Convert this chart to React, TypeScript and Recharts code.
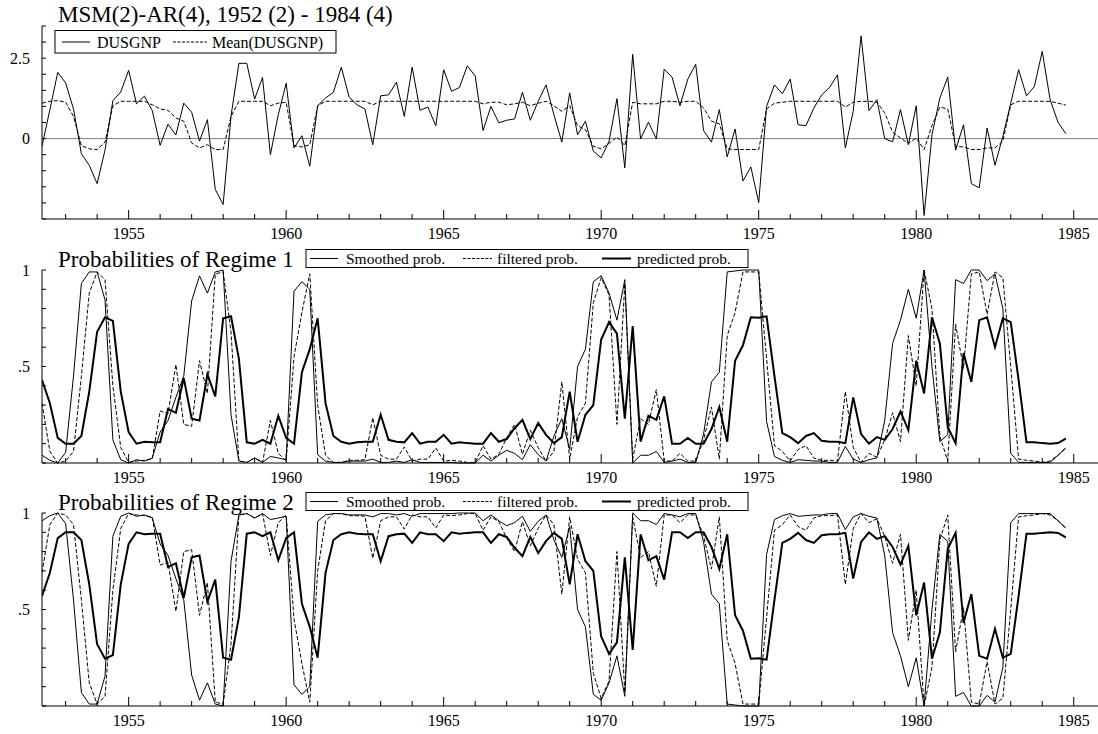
import { LineChart, Line, XAxis, YAxis, ReferenceLine } from 'recharts';

// quarterly sample 1952 (2) - 1984 (4)
const startYear = 1952;
const startQuarter = 2;

const dusgnp = [
  -0.24, 0.9, 2.06, 1.73, 0.92, -0.47, -0.83, -1.4, -0.36, 1.18,
  1.45, 2.12, 1.08, 1.32, 0.87, -0.21, 0.45, 0.11, 1.1, 0.82,
  -0.08, 0.59, -1.58, -2.05, 0.7, 2.34, 2.34, 1.23, 1.9, -0.5,
  0.74, 1.72, -0.29, 0.09, -0.86, 1.02, 1.26, 1.44, 2.22, 1.29,
  1.05, 0.92, -0.19, 1.33, 1.36, 1.75, 0.69, 2.22, 0.88, 0.98,
  0.4, 2.14, 1.47, 1.59, 2.26, 1.95, 0.25, 1.0, 0.49, 0.57,
  0.61, 1.44, 0.57, 1.16, 1.67, 0.74, -0.11, 1.42, 0.12, 0.54,
  -0.39, -0.6, -0.08, 1.24, -0.91, 2.62, -0.01, 0.51, -0.01, 2.16,
  1.91, 1.02, 1.85, 2.31, 0.25, -0.11, 0.9, -0.57, 0.3, -1.32,
  -0.88, -1.99, 1.0, 1.67, 1.39, 1.85, 0.43, 0.4, 0.95, 1.36,
  1.59, 1.98, -0.29, 0.85, 3.19, 0.87, 1.21, 0.0, -0.1, 0.9,
  -0.19, 1.02, -2.39, 0.12, 1.26, 1.91, -0.36, 0.43, -1.4, -1.53,
  0.33, -0.83, 0.07, 1.1, 2.14, 1.33, 1.62, 2.71, 1.21, 0.51,
  0.15,
];

const meanDusgnp = [
  1.1, 1.16, 1.18, 1.13, 0.69, -0.22, -0.32, -0.34, -0.11, 1.02,
  1.16, 1.16, 1.16, 1.16, 1.05, 0.92, 0.88, 0.64, 0.54, -0.13,
  -0.29, -0.19, -0.34, -0.34, 0.69, 1.16, 1.16, 1.16, 1.16, 1.02,
  1.1, 1.13, -0.22, -0.26, -0.19, 1.02, 1.16, 1.16, 1.16, 1.16,
  1.16, 1.16, 1.05, 1.16, 1.16, 1.16, 1.16, 1.16, 1.16, 1.16,
  1.16, 1.16, 1.16, 1.16, 1.16, 1.16, 1.08, 1.13, 1.13, 1.05,
  1.08, 1.13, 1.02, 1.1, 1.16, 1.02, 0.85, 1.02, 0.4, 0.28,
  -0.24, -0.32, -0.15, 0.05, -0.22, 1.13, 1.08, 1.08, 1.08, 1.16,
  1.16, 1.13, 1.16, 1.16, 0.95, 0.54, 0.46, -0.32, -0.34, -0.34,
  -0.34, -0.34, 0.92, 1.1, 1.13, 1.16, 1.16, 1.16, 1.16, 1.16,
  1.16, 1.16, 0.98, 1.13, 1.16, 1.16, 1.13, 0.8, 0.2, 0.02,
  -0.15, 0.02, -0.34, 0.4, 0.98, 0.92, -0.24, -0.26, -0.34, -0.34,
  -0.29, -0.29, -0.08, 1.05, 1.16, 1.16, 1.16, 1.16, 1.16, 1.1,
  1.04,
];

const smoothed1 = [
  0.04, 0.014, 0.0, 0.055, 0.45, 0.93, 0.99, 0.99, 0.845, 0.12,
  0.017, 0.0, 0.017, 0.01, 0.026, 0.16, 0.22, 0.34, 0.45, 0.84,
  0.97, 0.88, 0.99, 1.0, 0.25, 0.01, 0.003, 0.026, 0.003, 0.034,
  0.026, 0.017, 0.89, 0.94, 0.9, 0.043, 0.01, 0.003, 0.003, 0.01,
  0.01, 0.01, 0.02, 0.003, 0.003, 0.01, 0.003, 0.017, 0.003, 0.003,
  0.003, 0.003, 0.003, 0.0, 0.0, 0.0, 0.04, 0.01, 0.04, 0.066,
  0.05, 0.017, 0.095, 0.043, 0.01, 0.14, 0.23, 0.07, 0.5, 0.59,
  0.94, 0.97, 0.88, 0.74, 0.95, 0.0, 0.04, 0.04, 0.06, 0.003,
  0.01, 0.02, 0.003, 0.003, 0.15, 0.42, 0.47, 0.99, 0.995, 1.0,
  1.0, 1.0, 0.215, 0.034, 0.014, 0.003, 0.017, 0.014, 0.01, 0.01,
  0.003, 0.003, 0.086, 0.02, 0.003, 0.017, 0.026, 0.22, 0.62, 0.74,
  0.9, 0.75, 1.0, 0.5, 0.11, 0.147, 0.95, 0.93, 1.0, 1.0,
  0.945, 0.98, 0.8, 0.05, 0.003, 0.003, 0.003, 0.003, 0.003, 0.04,
  0.078,
];

const filtered1 = [
  0.31, 0.06, 0.0, 0.01, 0.06, 0.45, 0.88, 0.99, 0.95, 0.4,
  0.08, 0.003, 0.01, 0.014, 0.02, 0.27, 0.255, 0.51, 0.2, 0.19,
  0.53, 0.36, 0.98, 0.99, 0.68, 0.01, 0.003, 0.026, 0.003, 0.22,
  0.05, 0.01, 0.55, 0.78, 0.98, 0.3, 0.04, 0.003, 0.003, 0.014,
  0.014, 0.017, 0.235, 0.04, 0.02, 0.02, 0.083, 0.01, 0.02, 0.02,
  0.078, 0.01, 0.014, 0.01, 0.003, 0.003, 0.09, 0.02, 0.045, 0.13,
  0.2, 0.045, 0.17, 0.08, 0.01, 0.06, 0.42, 0.02, 0.24, 0.31,
  0.83, 0.96, 0.87, 0.2, 0.93, 0.02, 0.23, 0.2, 0.38, 0.01,
  0.01, 0.05, 0.01, 0.01, 0.12, 0.29, 0.02, 0.66, 0.78, 0.99,
  0.99, 0.99, 0.54, 0.09, 0.06, 0.01, 0.07, 0.09, 0.026, 0.014,
  0.014, 0.01, 0.37, 0.08, 0.003, 0.05, 0.03, 0.12, 0.26, 0.11,
  0.66, 0.4, 1.0, 0.8, 0.14, 0.01, 0.72, 0.49, 0.98, 0.99,
  0.77, 0.99, 0.96, 0.5, 0.02, 0.014, 0.01, 0.003, 0.01, 0.04,
  0.078,
];

const predicted1 = [
  0.43, 0.31, 0.13, 0.1, 0.1, 0.14, 0.37, 0.68, 0.755, 0.736,
  0.37, 0.16, 0.1, 0.11, 0.107, 0.107, 0.28, 0.26, 0.44, 0.23,
  0.22, 0.46, 0.345, 0.75, 0.76, 0.54, 0.107, 0.1, 0.12, 0.1,
  0.245, 0.13, 0.1, 0.47, 0.59, 0.75, 0.31, 0.14, 0.11, 0.1,
  0.107, 0.11, 0.11, 0.25, 0.12, 0.11, 0.107, 0.155, 0.1, 0.11,
  0.11, 0.146, 0.1, 0.107, 0.103, 0.1, 0.1, 0.155, 0.11, 0.124,
  0.18, 0.224, 0.124, 0.207, 0.146, 0.103, 0.134, 0.37, 0.11, 0.25,
  0.3, 0.64, 0.73, 0.67, 0.23, 0.71, 0.11, 0.245, 0.224, 0.345,
  0.1, 0.1, 0.13, 0.1, 0.1, 0.176, 0.29, 0.11, 0.53, 0.61,
  0.755, 0.753, 0.76, 0.45, 0.155, 0.134, 0.103, 0.14, 0.155, 0.115,
  0.11, 0.11, 0.103, 0.34, 0.15, 0.1, 0.134, 0.12, 0.176, 0.267,
  0.17, 0.53, 0.36, 0.755, 0.62, 0.186, 0.103, 0.57, 0.42, 0.74,
  0.755, 0.6, 0.75, 0.73, 0.43, 0.107, 0.107, 0.103, 0.1, 0.103,
  0.126,
];

const smoothed2 = [
  0.96, 0.986, 1.0, 0.945, 0.55, 0.07, 0.01, 0.01, 0.155, 0.88,
  0.983, 1.0, 0.983, 0.99, 0.974, 0.84, 0.78, 0.66, 0.55, 0.16,
  0.03, 0.12, 0.01, 0.0, 0.75, 0.99, 0.997, 0.974, 0.997, 0.966,
  0.974, 0.983, 0.11, 0.06, 0.1, 0.957, 0.99, 0.997, 0.997, 0.99,
  0.99, 0.99, 0.98, 0.997, 0.997, 0.99, 0.997, 0.983, 0.997, 0.997,
  0.997, 0.997, 0.997, 1.0, 1.0, 1.0, 0.96, 0.99, 0.96, 0.934,
  0.95, 0.983, 0.905, 0.957, 0.99, 0.86, 0.77, 0.93, 0.5, 0.41,
  0.06, 0.03, 0.12, 0.26, 0.05, 1.0, 0.96, 0.96, 0.94, 0.997,
  0.99, 0.98, 0.997, 0.997, 0.85, 0.58, 0.53, 0.01, 0.005, 0.0,
  0.0, 0.0, 0.785, 0.966, 0.986, 0.997, 0.983, 0.986, 0.99, 0.99,
  0.997, 0.997, 0.914, 0.98, 0.997, 0.983, 0.974, 0.78, 0.38, 0.26,
  0.1, 0.25, 0.0, 0.5, 0.89, 0.853, 0.05, 0.07, 0.0, 0.0,
  0.055, 0.02, 0.2, 0.95, 0.997, 0.997, 0.997, 0.997, 0.997, 0.96,
  0.922,
];

const filtered2 = [
  0.69, 0.94, 1.0, 0.99, 0.94, 0.55, 0.12, 0.01, 0.05, 0.6,
  0.92, 0.997, 0.99, 0.986, 0.98, 0.73, 0.745, 0.49, 0.8, 0.81,
  0.47, 0.64, 0.02, 0.01, 0.32, 0.99, 0.997, 0.974, 0.997, 0.78,
  0.95, 0.99, 0.45, 0.22, 0.02, 0.7, 0.96, 0.997, 0.997, 0.986,
  0.986, 0.983, 0.765, 0.96, 0.98, 0.98, 0.917, 0.99, 0.98, 0.98,
  0.922, 0.99, 0.986, 0.99, 0.997, 0.997, 0.91, 0.98, 0.955, 0.87,
  0.8, 0.955, 0.83, 0.92, 0.99, 0.94, 0.58, 0.98, 0.76, 0.69,
  0.17, 0.04, 0.13, 0.8, 0.07, 0.98, 0.77, 0.8, 0.62, 0.99,
  0.99, 0.95, 0.99, 0.99, 0.88, 0.71, 0.98, 0.34, 0.22, 0.01,
  0.01, 0.01, 0.46, 0.91, 0.94, 0.99, 0.93, 0.91, 0.974, 0.986,
  0.986, 0.99, 0.63, 0.92, 0.997, 0.95, 0.97, 0.88, 0.74, 0.89,
  0.34, 0.6, 0.0, 0.2, 0.86, 0.99, 0.28, 0.51, 0.02, 0.01,
  0.23, 0.01, 0.04, 0.5, 0.98, 0.986, 0.99, 0.997, 0.99, 0.96,
  0.922,
];

const predicted2 = [
  0.57, 0.69, 0.87, 0.9, 0.9, 0.86, 0.63, 0.32, 0.245, 0.264,
  0.63, 0.84, 0.9, 0.89, 0.893, 0.893, 0.72, 0.74, 0.56, 0.77,
  0.78, 0.54, 0.655, 0.25, 0.24, 0.46, 0.893, 0.9, 0.88, 0.9,
  0.755, 0.87, 0.9, 0.53, 0.41, 0.25, 0.69, 0.86, 0.89, 0.9,
  0.893, 0.89, 0.89, 0.75, 0.88, 0.89, 0.893, 0.845, 0.9, 0.89,
  0.89, 0.854, 0.9, 0.893, 0.897, 0.9, 0.9, 0.845, 0.89, 0.876,
  0.82, 0.776, 0.876, 0.793, 0.854, 0.897, 0.866, 0.63, 0.89, 0.75,
  0.7, 0.36, 0.27, 0.33, 0.77, 0.29, 0.89, 0.755, 0.776, 0.655,
  0.9, 0.9, 0.87, 0.9, 0.9, 0.824, 0.71, 0.89, 0.47, 0.39,
  0.245, 0.247, 0.24, 0.55, 0.845, 0.866, 0.897, 0.86, 0.845, 0.885,
  0.89, 0.89, 0.897, 0.66, 0.85, 0.9, 0.866, 0.88, 0.824, 0.733,
  0.83, 0.47, 0.64, 0.245, 0.38, 0.814, 0.897, 0.43, 0.58, 0.26,
  0.245, 0.4, 0.25, 0.27, 0.57, 0.893, 0.893, 0.897, 0.9, 0.897,
  0.874,
];

const yearTicks = [
  1953, 1954, 1955, 1956, 1957, 1958, 1959, 1960, 1961, 1962, 1963,
  1964, 1965, 1966, 1967, 1968, 1969, 1970, 1971, 1972, 1973, 1974,
  1975, 1976, 1977, 1978, 1979, 1980, 1981, 1982, 1983, 1984, 1985,
];
const yearLabels = [1955, 1960, 1965, 1970, 1975, 1980, 1985];

const gnpTicks = [-2.5, -2, -1.5, -1, -0.5, 0, 0.5, 1, 1.5, 2, 2.5, 3, 3.5];
const gnpLabels: Record<string, string> = { '0': '0', '2.5': '2.5' };
const probTicks = [0, 0.1, 0.2, 0.3, 0.4, 0.5, 0.6, 0.7, 0.8, 0.9, 1];
const probLabels: Record<string, string> = { '0.5': '.5', '1': '1' };

const rows = dusgnp.map((v, i) => ({
  t: startYear + (startQuarter - 1) / 4 + i / 4,
  dusgnp: v,
  mean: meanDusgnp[i],
  sm1: smoothed1[i],
  fi1: filtered1[i],
  pr1: predicted1[i],
  sm2: smoothed2[i],
  fi2: filtered2[i],
  pr2: predicted2[i],
}));

const FONT = "'Liberation Serif', 'Times New Roman', serif";
const W = 1098;
const PLOT_LEFT = 42;
const xDomain = [1952.25, 1985.77];

function YearTick(props: any) {
  const { x, y, payload } = props;
  const major = yearLabels.includes(payload.value);
  return (
    <g>
      <line x1={x} x2={x} y1={y} y2={y - (major ? 9 : 5)} stroke="#000" strokeWidth={1} />
      {major && (
        <text x={x} y={y + 20} textAnchor="middle" fontFamily={FONT} fontSize={16} fill="#000">
          {payload.value}
        </text>
      )}
    </g>
  );
}

function makeValueTick(labels: Record<string, string>) {
  return (props: any) => {
    const { x, y, payload } = props;
    const label = labels[String(payload.value)];
    return (
      <g>
        <line x1={x} x2={x + 4} y1={y} y2={y} stroke="#000" strokeWidth={1} />
        {label && (
          <text x={x - 12} y={y + 5.5} textAnchor="end" fontFamily={FONT} fontSize={16} fill="#000">
            {label}
          </text>
        )}
      </g>
    );
  };
}

function xAxisEl() {
  return (
    <XAxis
      type="number"
      dataKey="t"
      domain={xDomain}
      ticks={yearTicks}
      interval={0}
      allowDataOverflow
      tickLine={false}
      tickSize={0}
      tickMargin={0}
      height={26}
      axisLine={{ stroke: '#000', strokeWidth: 1 }}
      tick={YearTick}
    />
  );
}

function GnpPanel() {
  return (
    <LineChart width={W} height={245} data={rows} margin={{ top: 26, right: 0, bottom: 0, left: 0 }}>
      {xAxisEl()}
      <YAxis
        type="number"
        domain={[-2.5, 3.5]}
        ticks={gnpTicks}
        interval={0}
        width={PLOT_LEFT}
        tickLine={false}
        tickSize={0}
        tickMargin={0}
        axisLine={{ stroke: '#000', strokeWidth: 1 }}
        tick={makeValueTick(gnpLabels)}
      />
      <ReferenceLine y={0} stroke="#808080" strokeWidth={1} />
      <Line type="linear" dataKey="mean" stroke="#000" strokeWidth={1} strokeDasharray="4 2" dot={false} isAnimationActive={false} />
      <Line type="linear" dataKey="dusgnp" stroke="#000" strokeWidth={1} dot={false} isAnimationActive={false} />
    </LineChart>
  );
}

function ProbPanel({ sm, fi, pr }: { sm: string; fi: string; pr: string }) {
  return (
    <LineChart width={W} height={245} data={rows} margin={{ top: 26, right: 0, bottom: 0, left: 0 }}>
      {xAxisEl()}
      <YAxis
        type="number"
        domain={[0, 1]}
        ticks={probTicks}
        interval={0}
        width={PLOT_LEFT}
        tickLine={false}
        tickSize={0}
        tickMargin={0}
        axisLine={{ stroke: '#000', strokeWidth: 1 }}
        tick={makeValueTick(probLabels)}
      />
      <Line type="linear" dataKey={sm} stroke="#000" strokeWidth={1} dot={false} isAnimationActive={false} />
      <Line type="linear" dataKey={fi} stroke="#000" strokeWidth={1} strokeDasharray="4 2" dot={false} isAnimationActive={false} />
      <Line type="linear" dataKey={pr} stroke="#000" strokeWidth={2} dot={false} isAnimationActive={false} />
    </LineChart>
  );
}

function ProbLegend({ top, title }: { top: number; title: string }) {
  const ly = top + 9;
  return (
    <g fontFamily={FONT} fill="#000">
      <text x={58} y={top + 17} fontSize={23}>{title}</text>
      <rect x={306} y={top} width={442} height={18} fill="#fff" stroke="#000" strokeWidth={1} />
      <line x1={310} x2={338} y1={ly} y2={ly} stroke="#000" strokeWidth={1} />
      <text x={346} y={ly + 5} fontSize={15.5}>Smoothed prob.</text>
      <line x1={463} x2={492} y1={ly} y2={ly} stroke="#000" strokeWidth={1} strokeDasharray="3 1.5" />
      <text x={497} y={ly + 5} fontSize={15.5}>filtered prob.</text>
      <line x1={602} x2={631} y1={ly} y2={ly} stroke="#000" strokeWidth={2} />
      <text x={637} y={ly + 5} fontSize={15.5}>predicted prob.</text>
    </g>
  );
}

export default function App() {
  return (
    <div style={{ position: 'absolute', left: 0, top: 0, width: W, height: 734, background: '#fff' }}>
      <div style={{ position: 'absolute', left: 0, top: 0 }}>
        <GnpPanel />
      </div>
      <div style={{ position: 'absolute', left: 0, top: 244 }}>
        <ProbPanel sm="sm1" fi="fi1" pr="pr1" />
      </div>
      <div style={{ position: 'absolute', left: 0, top: 487 }}>
        <ProbPanel sm="sm2" fi="fi2" pr="pr2" />
      </div>
      <svg width={W} height={734} style={{ position: 'absolute', left: 0, top: 0, pointerEvents: 'none' }}>
        <g fontFamily={FONT} fill="#000">
          <text x={58} y={21.5} fontSize={23}>MSM(2)-AR(4), 1952 (2) - 1984 (4)</text>
          <rect x={55} y={30.5} width={281} height={22.5} fill="#fff" stroke="#000" strokeWidth={1} />
          <line x1={62} x2={90} y1={42} y2={42} stroke="#000" strokeWidth={1} />
          <text x={97} y={47.5} fontSize={16}>DUSGNP</text>
          <line x1={173} x2={207} y1={42} y2={42} stroke="#000" strokeWidth={1} strokeDasharray="3 1.5" />
          <text x={212} y={47.5} fontSize={16}>Mean(DUSGNP)</text>
        </g>
        <ProbLegend top={249.5} title="Probabilities of Regime 1" />
        <ProbLegend top={492.5} title="Probabilities of Regime 2" />
      </svg>
    </div>
  );
}
